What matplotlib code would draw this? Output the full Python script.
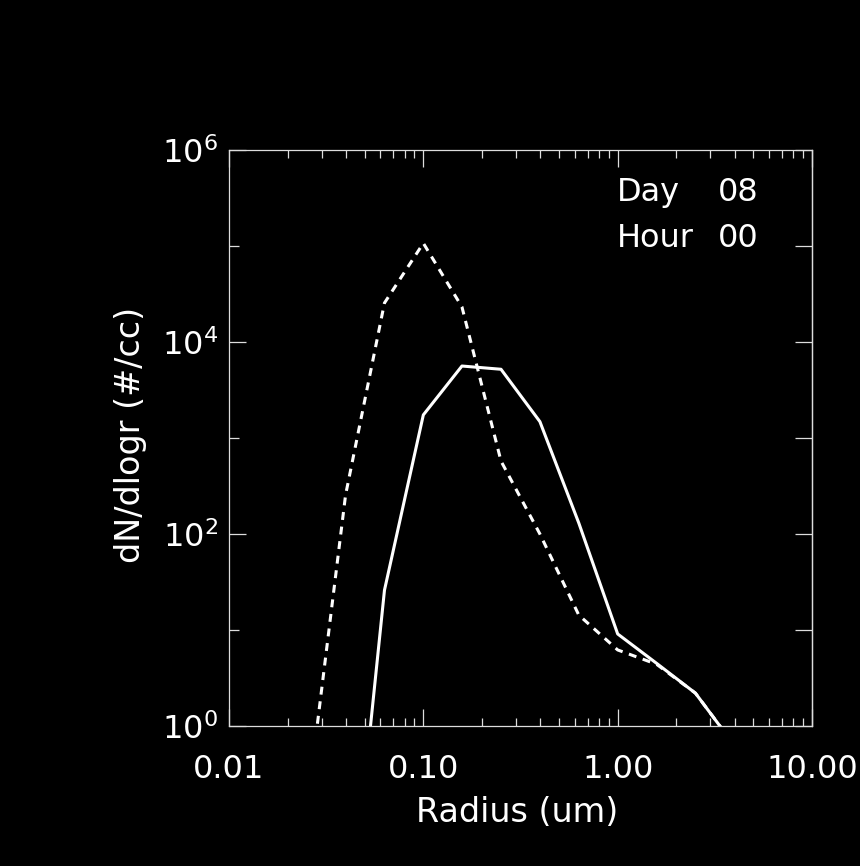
"""
粒径分布 dN/dlogr (IDL 风格黑底图)
"""

import numpy as np
import matplotlib
matplotlib.use("Agg")
import matplotlib.pyplot as plt
from matplotlib.ticker import FixedLocator, FixedFormatter, NullFormatter

plt.rcParams["font.family"] = ["DejaVu Sans"]
plt.rcParams["mathtext.fontset"] = "dejavusans"

# 数据
radius_solid = [0.0398, 0.0631, 0.100, 0.158, 0.251, 0.398, 0.631, 1.00, 1.585, 2.512, 3.981]
dn_solid = [0.003, 26, 1740, 5620, 5200, 1480, 130, 9.1, 4.5, 2.2, 0.63]

radius_dash = [0.0251, 0.0398, 0.0631, 0.100, 0.158, 0.251, 0.398, 0.631, 1.00, 1.585, 2.512, 3.981]
dn_dash = [0.13, 255, 25500, 107000, 23200, 575, 100, 14.3, 6.2, 4.4, 2.2, 0.63]

x_major = [0.01, 0.1, 1.0, 10.0]
x_labels = ["0.01", "0.10", "1.00", "10.00"]
y_major = [1, 1e2, 1e4, 1e6]
y_labels = [r"$10^{0}$", r"$10^{2}$", r"$10^{4}$", r"$10^{6}$"]
y_minor = [10, 1e3, 1e5]

FG = "white"
AXC = "#dddddd"
FS = 23

fig = plt.figure(figsize=(8.6, 8.66), dpi=100, facecolor="black")
ax = fig.add_axes([229 / 860, 1 - 726 / 866, 583 / 860, 576 / 866], facecolor="black")

ax.plot(radius_dash, dn_dash, color=FG, linewidth=2.2, linestyle=(0, (2.6, 2.2)))
ax.plot(radius_solid, dn_solid, color=FG, linewidth=2.2)

ax.set_xscale("log")
ax.set_yscale("log")
ax.set_xlim(0.01, 10)
ax.set_ylim(1, 1e6)

for sp in ax.spines.values():
    sp.set_color(AXC)
    sp.set_linewidth(0.9)

# x 轴刻度
ax.xaxis.set_major_locator(FixedLocator(x_major))
ax.xaxis.set_major_formatter(FixedFormatter(x_labels))
x_minor = [m * d for d in [0.01, 0.1, 1.0] for m in range(2, 10)]
ax.xaxis.set_minor_locator(FixedLocator(x_minor))
ax.xaxis.set_minor_formatter(NullFormatter())
ax.tick_params(axis="x", which="major", direction="in", length=12, width=0.9,
               top=True, bottom=True, color=AXC, labelcolor=FG, labelsize=FS, pad=20)
ax.tick_params(axis="x", which="minor", direction="in", length=6, width=0.9,
               top=True, bottom=True, color=AXC)

# y 轴刻度 (左侧)
ax.yaxis.set_major_locator(FixedLocator(y_major))
ax.yaxis.set_major_formatter(FixedFormatter(y_labels))
ax.yaxis.set_minor_locator(FixedLocator(y_minor))
ax.yaxis.set_minor_formatter(NullFormatter())
ax.tick_params(axis="y", which="major", direction="in", length=12, width=0.9,
               left=True, right=False, color=AXC, labelcolor=FG, labelsize=FS, pad=8)
ax.tick_params(axis="y", which="minor", direction="in", length=7, width=0.9,
               left=True, right=False, color=AXC)

# 右侧刻度 (全部为长刻度)
sec = ax.secondary_yaxis("right")
sec.set_yscale("log")
sec.yaxis.set_major_locator(FixedLocator([10.0 ** k for k in range(0, 7)]))
sec.yaxis.set_major_formatter(NullFormatter())
sec.yaxis.set_minor_locator(FixedLocator([]))
sec.tick_params(axis="y", which="major", direction="in", length=12, width=0.9, color=AXC)
sec.spines["right"].set_color(AXC)
sec.spines["right"].set_linewidth(0.9)

ax.set_xlabel("Radius (um)", color=FG, fontsize=24)
ax.xaxis.set_label_coords(0.495, -0.122)
ax.set_ylabel("dN/dlogr (#/cc)", color=FG, fontsize=24)
ax.yaxis.set_label_coords(-0.14, 0.505)

ax.text(0.666, 0.911, "Day", transform=ax.transAxes, color=FG, fontsize=FS)
ax.text(0.839, 0.911, "08", transform=ax.transAxes, color=FG, fontsize=FS)
ax.text(0.666, 0.832, "Hour", transform=ax.transAxes, color=FG, fontsize=FS)
ax.text(0.839, 0.832, "00", transform=ax.transAxes, color=FG, fontsize=FS)

fig.savefig("out.png", dpi=100, facecolor="black")
